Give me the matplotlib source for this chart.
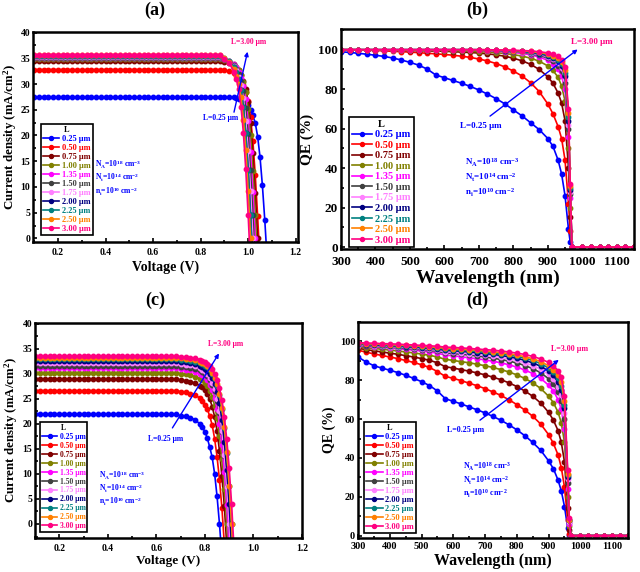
import numpy as np
import matplotlib
matplotlib.use('Agg')
import matplotlib.pyplot as plt
from matplotlib.ticker import MultipleLocator

plt.rcParams['font.family'] = 'Liberation Serif'
plt.rcParams['font.weight'] = 'bold'
plt.rcParams['mathtext.fontset'] = 'custom'
plt.rcParams['mathtext.rm'] = 'Liberation Serif:bold'
plt.rcParams['mathtext.it'] = 'Liberation Serif:italic:bold'
plt.rcParams['mathtext.bf'] = 'Liberation Serif:bold'

LABELS = ['0.25 μm', '0.50 μm', '0.75 μm', '1.00 μm', '1.35 μm', '1.50 μm',
          '1.75 μm', '2.00 μm', '2.25 μm', '2.50 μm', '3.00 μm']
COLORS = ['#0000FF', '#FF0000', '#800000', '#808000', '#FF00FF', '#404040',
          '#FF80FF', '#000080', '#008080', '#FF8000', '#FF0080']

# ---------- (a) J-V ----------
V_A_FLAT = np.round(np.arange(0.10, 0.89, 0.02), 2)
JSC_A = [27.5, 32.8, 34.4, 34.8, 35.0, 35.1, 35.3, 35.4, 35.5, 35.55, 35.6]
V_A_KNEE = [0.90, 0.92, 0.94, 0.95, 0.96, 0.97, 0.98, 0.99, 1.00, 1.01, 1.02,
            1.03, 1.04, 1.05, 1.06, 1.07, 1.08]
J_A_KNEE = [
    [27.5, 27.5, 27.4, 27.3, 27.1, 27.0, 26.7, 26.4, 25.9, 25.0, 23.9, 22.4, 19.8, 15.8, 10.3, 3.6, -4.1],
    [32.7, 32.5, 32.1, 31.8, 31.4, 30.8, 29.8, 28.5, 26.7, 23.6, 18.9, 12.3, 4.3, -4.9, -16, -30, -40],
    [34.3, 34.1, 33.6, 33.2, 32.7, 31.8, 30.6, 29.1, 26.5, 22.4, 16.5, 8.9, 0.0, -10, -24, -40, -50],
    [34.6, 34.3, 33.8, 33.3, 32.7, 31.7, 30.3, 28.4, 25.1, 20.0, 13.1, 4.5, -5.2, -17, -30, -40, -50],
    [34.8, 34.4, 33.8, 33.3, 32.4, 31.2, 29.6, 27.0, 22.8, 16.8, 9.1, 0.0, -10.5, -25, -40, -50, -60],
    [34.8, 34.4, 33.6, 33.0, 31.9, 30.5, 28.6, 25.3, 20.2, 13.2, 4.6, -5.3, -17.5, -30, -45, -55, -65],
    [34.9, 34.5, 33.5, 32.7, 31.4, 29.8, 27.2, 22.9, 16.9, 9.2, 0.0, -10.6, -24.7, -40, -50, -60, -70],
    [34.9, 34.3, 33.3, 32.2, 30.8, 28.9, 25.5, 20.4, 13.3, 4.6, -5.3, -17.7, -35, -50, -60, -70, -80],
    [35.0, 34.4, 33.4, 32.3, 30.9, 28.9, 25.6, 20.4, 13.3, 4.6, -5.3, -17.8, -35, -50, -60, -70, -80],
    [35.0, 34.3, 32.9, 31.6, 30.0, 27.4, 23.1, 17.1, 9.2, 0.0, -10.7, -24.9, -40, -50, -60, -70, -80],
    [34.9, 34.1, 32.4, 31.0, 29.0, 25.6, 20.5, 13.4, 4.6, -5.3, -17.8, -35, -50, -60, -70, -80, -90],
]

# ---------- (c) J-V ----------
V_C_FLAT = np.round(np.arange(0.10, 0.69, 0.02), 2)
JSC_C = [21.9, 26.6, 28.9, 30.2, 31.1, 31.6, 32.1, 32.5, 32.9, 33.2, 33.5]
V_C_KNEE = [0.70, 0.72, 0.74, 0.76, 0.78, 0.79, 0.80, 0.81, 0.82, 0.83, 0.84,
            0.85, 0.86, 0.87, 0.88, 0.89, 0.90, 0.91, 0.92, 0.93]
J_C_KNEE = [
    [21.6, 21.5, 21.2, 20.8, 19.9, 19.3, 18.4, 17.1, 15.3, 13.3, 10.0, 5.5, 0.0, -6.6, -20, -30, -40, -50, -60, -70],
    [26.4, 26.3, 26.0, 25.7, 25.1, 24.6, 23.8, 22.9, 21.5, 19.7, 17.0, 13.4, 8.8, 3.2, -4.0, -13.3, -25, -35, -45, -55],
    [28.7, 28.6, 28.4, 28.1, 27.6, 27.3, 26.7, 25.9, 24.9, 23.4, 21.4, 18.5, 14.6, 9.5, 3.5, -4.3, -14.5, -25, -35, -45],
    [30.0, 29.9, 29.7, 29.4, 29.0, 28.7, 28.2, 27.5, 26.6, 25.4, 23.6, 21.1, 17.5, 13.0, 6.9, 0.0, -9.0, -20, -30, -40],
    [30.9, 30.8, 30.7, 30.4, 30.0, 29.7, 29.3, 28.7, 27.8, 26.7, 25.2, 23.0, 19.9, 15.7, 10.3, 3.7, -4.7, -15.6, -30, -40],
    [31.4, 31.3, 31.2, 31.0, 30.7, 30.3, 30.0, 29.5, 28.8, 27.8, 26.5, 24.6, 22.1, 18.3, 13.6, 7.3, 0.0, -9.5, -21, -32],
    [31.9, 31.8, 31.7, 31.5, 31.1, 30.8, 30.5, 30.0, 29.2, 28.2, 27.0, 25.0, 22.5, 18.6, 13.8, 7.4, 0.0, -9.6, -21, -32],
    [32.4, 32.3, 32.1, 31.9, 31.6, 31.4, 31.0, 30.6, 30.0, 29.1, 28.0, 26.3, 24.1, 20.8, 16.4, 10.7, 3.9, -4.9, -16.3, -30],
    [32.8, 32.7, 32.6, 32.4, 32.1, 31.9, 31.6, 31.3, 30.8, 29.9, 29.0, 27.6, 25.7, 23.0, 19.1, 14.1, 7.6, 0.0, -9.9, -23],
    [33.1, 33.0, 32.9, 32.7, 32.4, 32.2, 31.9, 31.5, 31.0, 30.2, 29.2, 27.9, 25.9, 23.2, 19.3, 14.3, 7.6, 0.0, -10, -23],
    [33.4, 33.3, 33.2, 33.1, 32.8, 32.6, 32.3, 32.0, 31.6, 30.9, 30.0, 28.8, 27.1, 24.8, 21.4, 16.9, 11.1, 4.0, -5.0, -16.8],
]

# ---------- (b), (d) QE ----------
WL = [300, 325, 350, 375, 400, 425, 450, 475, 500, 525, 550, 575, 600, 625, 650,
      675, 700, 725, 750, 775, 800, 825, 850, 875, 900, 915, 930, 940, 950, 960, 965, 970]
WL_TAIL = [1000, 1025, 1050, 1075, 1100, 1125, 1150]
QE_TAIL = [0, 0, 0, 0, 0, 0, 0]

QE_B = [
    [99.0, 98.6, 98.2, 97.7, 97.2, 96.6, 95.8, 94.8, 93.6, 92.2, 90.2, 87.2, 85.8, 84.4, 83.0, 81.4,
     79.6, 77.5, 75.2, 72.6, 69.5, 66.5, 63.0, 59.5, 55.0, 51.0, 44.0, 37.0, 26.0, 9.0, 2.5, 0.0],
    [100.0, 99.9, 99.8, 99.7, 99.6, 99.4, 99.2, 99.0, 98.8, 98.5, 98.2, 97.9, 97.6, 97.2, 96.7, 96.1,
     95.3, 94.3, 93.0, 91.3, 89.2, 86.7, 83.3, 78.8, 72.5, 67.5, 61.0, 55.0, 44.0, 22.0, 8.0, 0.0],
    [100.0, 100.0, 100.0, 99.9, 99.9, 99.8, 99.8, 99.7, 99.6, 99.5, 99.4, 99.3, 99.2, 99.0, 98.8, 98.6,
     98.3, 97.9, 97.4, 96.7, 95.7, 94.4, 92.6, 90.0, 86.3, 83.0, 78.0, 73.0, 64.0, 40.0, 15.0, 0.0],
    [100.0, 100.0, 100.0, 100.0, 100.0, 99.9, 99.9, 99.9, 99.8, 99.8, 99.7, 99.7, 99.6, 99.5, 99.4, 99.2,
     99.0, 98.8, 98.5, 98.1, 97.5, 96.8, 95.7, 94.2, 91.8, 89.5, 86.0, 81.5, 74.0, 50.0, 20.0, 0.0],
    [100.0, 100.0, 100.0, 100.0, 100.0, 100.0, 100.0, 100.0, 100.0, 100.0, 100.0, 100.0, 100.0, 99.9, 99.9, 99.8,
     99.7, 99.5, 99.3, 99.0, 98.6, 98.1, 97.4, 96.3, 94.6, 92.8, 90.0, 86.5, 80.0, 56.0, 25.0, 0.0],
    [100.0, 100.0, 100.0, 100.0, 100.0, 100.0, 100.0, 100.0, 100.0, 100.0, 100.0, 100.0, 100.0, 100.0, 100.0, 100.0,
     99.8, 99.7, 99.5, 99.3, 99.0, 98.6, 98.0, 97.1, 95.8, 94.3, 92.0, 89.0, 83.0, 60.0, 27.0, 0.0],
    [100.0, 100.0, 100.0, 100.0, 100.0, 100.0, 100.0, 100.0, 100.0, 100.0, 100.0, 100.0, 100.0, 100.0, 100.0, 100.0,
     100.0, 99.8, 99.7, 99.5, 99.2, 98.9, 98.4, 97.6, 96.5, 95.2, 93.2, 90.5, 85.0, 62.0, 28.0, 0.0],
    [100.0, 100.0, 100.0, 100.0, 100.0, 100.0, 100.0, 100.0, 100.0, 100.0, 100.0, 100.0, 100.0, 100.0, 100.0, 100.0,
     100.0, 99.9, 99.8, 99.6, 99.4, 99.1, 98.7, 98.0, 97.0, 95.9, 94.2, 91.8, 86.5, 64.0, 29.0, 0.0],
    [100.0, 100.0, 100.0, 100.0, 100.0, 100.0, 100.0, 100.0, 100.0, 100.0, 100.0, 100.0, 100.0, 100.0, 100.0, 100.0,
     100.0, 99.9, 99.8, 99.7, 99.5, 99.3, 98.9, 98.3, 97.5, 96.5, 95.0, 93.0, 88.0, 66.0, 30.0, 0.0],
    [100.0, 100.0, 100.0, 100.0, 100.0, 100.0, 100.0, 100.0, 100.0, 100.0, 100.0, 100.0, 100.0, 100.0, 100.0, 100.0,
     100.0, 100.0, 99.9, 99.8, 99.6, 99.4, 99.1, 98.6, 97.9, 97.0, 95.7, 94.0, 89.5, 68.0, 31.0, 0.0],
    [100.0, 100.0, 100.0, 100.0, 100.0, 100.0, 100.0, 100.0, 100.0, 100.0, 100.0, 100.0, 100.0, 100.0, 100.0, 100.0,
     100.0, 100.0, 99.9, 99.8, 99.7, 99.6, 99.4, 99.0, 98.4, 97.7, 96.6, 95.0, 91.0, 70.0, 32.0, 0.0],
]

QE_D = [
    [92.0, 89.5, 87.5, 86.3, 85.2, 84.0, 82.6, 81.0, 79.3, 77.3, 74.5, 70.5, 69.2, 67.8, 66.3, 64.8,
     63.2, 61.4, 59.4, 57.1, 54.5, 51.5, 48.0, 44.0, 38.5, 34.5, 28.5, 23.0, 15.0, 4.0, 0.5, 0.0],
    [95.5, 94.5, 93.6, 92.8, 92.0, 91.2, 90.2, 89.2, 88.0, 86.6, 84.5, 82.0, 81.0, 79.8, 78.5, 77.2,
     75.7, 74.0, 72.2, 70.0, 67.5, 64.7, 61.5, 57.5, 52.0, 47.5, 41.5, 35.0, 25.0, 8.0, 1.0, 0.0],
    [96.5, 95.8, 95.2, 94.6, 94.0, 93.4, 92.7, 92.0, 91.2, 90.3, 89.0, 87.0, 86.3, 85.5, 84.7, 83.8,
     82.8, 81.6, 80.3, 78.7, 76.8, 74.5, 71.8, 68.3, 63.5, 59.5, 54.0, 48.0, 38.0, 14.0, 3.0, 0.0],
    [97.2, 96.8, 96.4, 96.0, 95.6, 95.1, 94.6, 94.1, 93.5, 92.9, 92.0, 90.8, 90.2, 89.6, 89.0, 88.3,
     87.5, 86.6, 85.5, 84.3, 82.8, 81.0, 78.7, 75.8, 71.8, 68.5, 63.5, 58.0, 48.0, 20.0, 5.0, 0.0],
    [97.8, 97.5, 97.2, 96.9, 96.6, 96.3, 95.9, 95.5, 95.1, 94.6, 94.0, 93.0, 92.6, 92.1, 91.6, 91.1,
     90.5, 89.8, 89.0, 88.0, 86.8, 85.3, 83.5, 81.0, 77.5, 74.5, 70.0, 65.0, 55.0, 24.0, 6.0, 0.0],
    [98.1, 97.8, 97.6, 97.3, 97.1, 96.8, 96.5, 96.2, 95.8, 95.4, 94.9, 94.1, 93.8, 93.4, 93.0, 92.5,
     92.0, 91.4, 90.7, 89.9, 88.9, 87.6, 86.0, 83.9, 80.8, 78.0, 74.0, 69.5, 60.0, 27.0, 7.0, 0.0],
    [98.4, 98.1, 97.9, 97.7, 97.4, 97.2, 96.9, 96.6, 96.3, 96.0, 95.5, 94.8, 94.5, 94.2, 93.8, 93.4,
     92.9, 92.4, 91.8, 91.1, 90.2, 89.0, 87.6, 85.7, 83.0, 80.5, 76.8, 72.5, 63.0, 29.0, 7.0, 0.0],
    [98.7, 98.4, 98.2, 98.0, 97.8, 97.6, 97.3, 97.1, 96.8, 96.5, 96.1, 95.5, 95.2, 94.9, 94.6, 94.2,
     93.8, 93.3, 92.8, 92.1, 91.3, 90.3, 89.0, 87.2, 84.8, 82.5, 79.0, 75.0, 65.5, 30.0, 8.0, 0.0],
    [98.9, 98.7, 98.5, 98.3, 98.1, 97.9, 97.7, 97.5, 97.2, 96.9, 96.6, 96.0, 95.8, 95.5, 95.2, 94.9,
     94.5, 94.1, 93.6, 93.0, 92.3, 91.4, 90.2, 88.6, 86.3, 84.2, 81.0, 77.0, 67.5, 31.0, 8.0, 0.0],
    [99.1, 98.9, 98.7, 98.6, 98.4, 98.2, 98.0, 97.8, 97.6, 97.3, 97.0, 96.5, 96.3, 96.0, 95.8, 95.5,
     95.1, 94.7, 94.3, 93.7, 93.0, 92.2, 91.1, 89.6, 87.5, 85.5, 82.5, 79.0, 69.5, 32.0, 8.0, 0.0],
    [99.4, 99.2, 99.1, 98.9, 98.8, 98.6, 98.4, 98.2, 98.0, 97.8, 97.5, 97.1, 96.9, 96.7, 96.4, 96.1,
     95.8, 95.5, 95.1, 94.6, 94.0, 93.3, 92.3, 91.0, 89.2, 87.5, 85.0, 81.5, 72.0, 34.0, 9.0, 0.0],
]

PARAMS = [r'N$_\mathrm{A}$=10$^{18}$ cm$^{-3}$',
          r'N$_\mathrm{t}$=10$^{14}$ cm$^{-2}$',
          r'n$_\mathrm{i}$=10$^{10}$ cm$^{-2}$']


def style_axes(ax, xlim, ylim, xmaj, xmin, ymaj, ymin, fs, xpad=2):
    ax.set_xlim(*xlim)
    ax.set_ylim(*ylim)
    ax.xaxis.set_major_locator(MultipleLocator(xmaj))
    ax.xaxis.set_minor_locator(MultipleLocator(xmin))
    ax.yaxis.set_major_locator(MultipleLocator(ymaj))
    ax.yaxis.set_minor_locator(MultipleLocator(ymin))
    ax.tick_params(which='both', direction='in', width=1.2, labelsize=fs)
    ax.tick_params(axis='y', pad=2)
    ax.tick_params(axis='x', pad=xpad)
    ax.tick_params(which='major', length=3)
    ax.tick_params(which='minor', length=1.8)
    for sp in ax.spines.values():
        sp.set_linewidth(1.8)
    for lab in ax.get_xticklabels() + ax.get_yticklabels():
        lab.set_fontweight('bold')


def add_legend(ax, anchor, fs):
    leg = ax.legend(title='L', loc='lower left', bbox_to_anchor=anchor, borderaxespad=0,
                    fontsize=fs, title_fontsize=fs, labelcolor='linecolor', fancybox=False,
                    edgecolor='black', framealpha=1, handlelength=2.0, handletextpad=0.3,
                    labelspacing=0.12, borderpad=0.25, markerscale=0.9)
    leg.get_frame().set_linewidth(1.2)


def annotate(ax, start, end, low_pos, high_pos, param_pos, param_dy, fs):
    ax.annotate('', xy=end, xytext=start,
                arrowprops=dict(arrowstyle='-|>', color='#0000FF', lw=1.0, mutation_scale=6))
    ax.text(*low_pos, 'L=0.25 μm', color='#0000FF', fontsize=fs, ha='center', va='center')
    ax.text(*high_pos, 'L=3.00 μm', color='#FF0080', fontsize=fs, ha='center', va='center')
    for k, s in enumerate(PARAMS):
        ax.text(param_pos[0], param_pos[1] - k * param_dy, s, color='#0000FF',
                fontsize=fs, ha='left', va='center')


def plot_jv(ax, v_flat, jsc, v_knee, j_knee):
    for i in range(len(LABELS)):
        v = list(v_flat) + v_knee
        j = [jsc[i]] * len(v_flat) + j_knee[i]
        ax.plot(v, j, '-o', color=COLORS[i], lw=1.2, ms=3.2, label=LABELS[i])


def plot_qe(ax, qe):
    for i in range(len(LABELS)):
        ax.plot(WL + WL_TAIL, qe[i] + QE_TAIL, '-o', color=COLORS[i], lw=1.2, ms=3.2,
                label=LABELS[i])


fig = plt.figure(figsize=(6.4, 5.72), dpi=100)

# (a)
ax = fig.add_axes([0.0516, 0.5769, 0.4141, 0.3671])
plot_jv(ax, V_A_FLAT, JSC_A, V_A_KNEE, J_A_KNEE)
style_axes(ax, (0.095, 1.21), (-0.7, 40.1), 0.2, 0.1, 5, 2.5, 7, xpad=4)
ax.set_xlabel('Voltage (V)', fontsize=10, fontweight='bold', labelpad=3)
ax.set_ylabel(r'Current density (mA/cm$^{2}$)', fontsize=9.3, fontweight='bold', labelpad=1)
add_legend(ax, (0.029, 0.033), 6)
annotate(ax, (0.938, 24.0), (1.0, 36.8), (0.885, 23.3), (1.0, 38.2), (0.355, 14.3), 2.6, 5.5)

# (b)
ax = fig.add_axes([0.5328, 0.5647, 0.4578, 0.3846])
plot_qe(ax, QE_B)
style_axes(ax, (300, 1150), (-1, 110.5), 100, 50, 20, 10, 9.5, xpad=5)
ax.set_xlabel('Wavelength (nm)', fontsize=14, fontweight='bold', labelpad=1)
ax.set_ylabel('QE (%)', fontsize=11, fontweight='bold', labelpad=3)
add_legend(ax, (0.027, 0.008), 7.5)
annotate(ax, (726, 65.5), (993, 101), (706, 61.5), (1028, 104), (660, 42.6), 7.6, 6.5)

# (c)
ax = fig.add_axes([0.0547, 0.0594, 0.4172, 0.3759])
plot_jv(ax, V_C_FLAT, JSC_C, V_C_KNEE, J_C_KNEE)
style_axes(ax, (0.1, 1.2), (-2.8, 40.1), 0.2, 0.1, 5, 2.5, 7, xpad=4)
ax.set_xlabel('Voltage (V)', fontsize=9.5, fontweight='bold', labelpad=2)
ax.set_ylabel(r'Current density (mA/cm$^{2}$)', fontsize=9.3, fontweight='bold', labelpad=1.5)
add_legend(ax, (0.019, 0.028), 5.5)
annotate(ax, (0.66, 18.7), (0.864, 34.5), (0.637, 16.9), (0.886, 35.9), (0.363, 9.6), 2.6, 5.5)

# (d)
ax = fig.add_axes([0.5594, 0.0594, 0.4219, 0.3776])
plot_qe(ax, QE_D)
style_axes(ax, (300, 1150), (-1.2, 110), 100, 50, 20, 10, 7.5, xpad=3)
ax.set_xlabel('Wavelength (nm)', fontsize=11.5, fontweight='bold', labelpad=1)
ax.set_ylabel('QE (%)', fontsize=10, fontweight='bold', labelpad=3)
add_legend(ax, (0.022, 0.023), 6)
annotate(ax, (677, 58.6), (939, 91.4), (640, 54.3), (965, 96.2), (630, 35.4), 7.0, 5.8)

fig.text(155 / 640, 1 - 10 / 572, '(a)', fontsize=13, fontweight='bold', ha='center', va='center')
fig.text(477 / 640, 1 - 10 / 572, '(b)', fontsize=13, fontweight='bold', ha='center', va='center')
fig.text(155 / 640, 1 - 300 / 572, '(c)', fontsize=13, fontweight='bold', ha='center', va='center')
fig.text(477 / 640, 1 - 300 / 572, '(d)', fontsize=13, fontweight='bold', ha='center', va='center')

fig.savefig('out.png', dpi=100)
